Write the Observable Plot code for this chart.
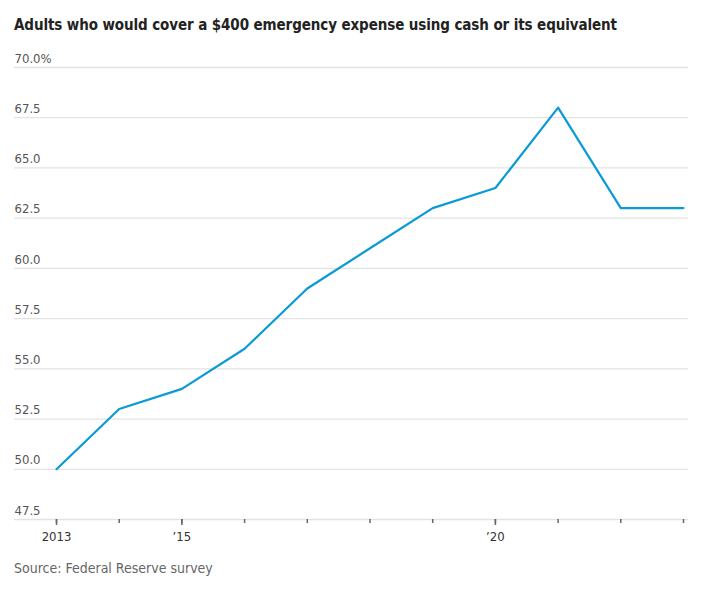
<!DOCTYPE html>
<html><head><meta charset="utf-8">
<script src="https://cdn.jsdelivr.net/npm/d3@7"></script>
<script src="https://cdn.jsdelivr.net/npm/@observablehq/plot@0.6"></script>
<style>
body{margin:0;background:#fff;font-family:"Liberation Sans Narrow","DejaVu Sans Condensed","Roboto",sans-serif;}
#wrap{width:705px;}
#title{font-weight:bold;font-size:15px;color:#222;padding:16px 0 0 14px;height:29px;letter-spacing:-0.1px;}
#caption{font-size:14px;color:#666;padding:1px 0 0 14px;}
svg{display:block;}
</style></head><body>
<div id="wrap">
<div id="title">Adults who would cover a $400 emergency expense using cash or its equivalent</div>
<div id="chart"></div>
<div id="caption">Source: Federal Reserve survey</div>
</div>
<script>
const years = [2013,2014,2015,2016,2017,2018,2019,2020,2021,2022,2023];
const values = [50,53,54,56,59,61,63,64,68,63,63];
const yTicks = [47.5,50,52.5,55,57.5,60,62.5,65,67.5,70];
const yTickLabels = ["47.5","50.0","52.5","55.0","57.5","60.0","62.5","65.0","67.5","70.0%"];
const xLabelled = [2013,2015,2020];
const xLabels = ["2013","’15","’20"];

const data = years.map((y,i)=>({year:y,value:values[i]}));
const yt = yTicks.map((v,i)=>({v,label:yTickLabels[i]}));

const chart = Plot.plot({
  width:705, height:514,
  marginLeft:56, marginRight:22, marginTop:22, marginBottom:40,
  style:{fontFamily:'"Liberation Sans Narrow","DejaVu Sans Condensed",sans-serif', fontSize:"13px", color:"#333"},
  x:{domain:[2013,2023], axis:null, label:null},
  y:{domain:[47.5,70], axis:null, label:null},
  marks:[
    Plot.ruleY(yt,{y:"v", stroke:"#e3e3e3", strokeWidth:1.3, insetLeft:-42, insetRight:-5}),
    Plot.text(yt,{y:"v", text:"label", frameAnchor:"left", textAnchor:"start", dx:-42, dy:-9, fill:"#555", fontSize:13}),
    Plot.axisX({ticks:years, tickSize:4, tickFormat:()=>"", stroke:"#666", tickPadding:0, strokeWidth:1.5, label:null}),
    Plot.axisX({ticks:xLabelled, tickSize:6, tickFormat:d=>xLabels[xLabelled.indexOf(d)], stroke:"#666", fill:"#333", tickPadding:6, fontSize:13, strokeWidth:1.5, label:null}),
    Plot.line(data,{x:"year", y:"value", stroke:"#0a9ad6", strokeWidth:2.2})
  ]
});
document.getElementById("chart").appendChild(chart);
</script>
</body></html>
